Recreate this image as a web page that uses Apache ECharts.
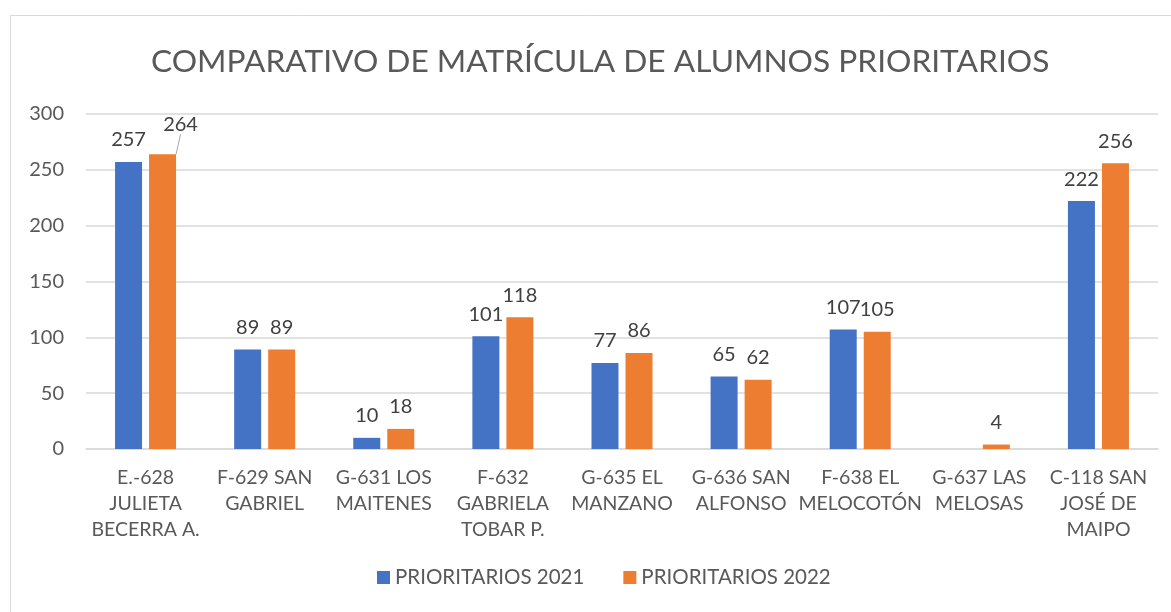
<!DOCTYPE html>
<html>
<head>
<meta charset="utf-8">
<script src="https://cdn.jsdelivr.net/npm/echarts@6/dist/echarts.min.js"></script>
<style>
  html, body { margin: 0; padding: 0; background: #fff; }
  #chart { width: 1171px; height: 612px; }
</style>
</head>
<body>
<div id="chart"></div>
<script>
const categories = [
  "E.-628\nJULIETA\nBECERRA A.",
  "F-629 SAN\nGABRIEL",
  "G-631 LOS\nMAITENES",
  "F-632\nGABRIELA\nTOBAR P.",
  "G-635 EL\nMANZANO",
  "G-636 SAN\nALFONSO",
  "F-638 EL\nMELOCOTÓN",
  "G-637 LAS\nMELOSAS",
  "C-118 SAN\nJOSÉ DE\nMAIPO"
];
const prior2021 = [257, 89, 10, 101, 77, 65, 107, null, 222];
const prior2022 = [264, 89, 18, 118, 86, 62, 105, 4, 256];
const yTicks = [0, 50, 100, 150, 200, 250, 300];

const font = "Lato, 'Open Sans', sans-serif";
const chart = echarts.init(document.getElementById("chart"));

const labelStyle = {
  show: true,
  position: "top",
  distance: 12,
  color: "#404040",
  fontSize: 20,
  fontFamily: font
};

// only the first orange label is pulled aside with a leader line
const data2022 = prior2022.map((v, i) => i === 0
  ? { value: v, labelLine: { show: true, lineStyle: { color: "#a6a6a6", width: 1 } } }
  : { value: v, labelLine: { show: false } });

chart.setOption({
  animation: false,
  textStyle: { fontFamily: font },
  graphic: [{
    type: "rect",
    shape: { x: 10.5, y: 15.5, width: 1300, height: 700 },
    style: { fill: "none", stroke: "#d9d9d9", lineWidth: 1 },
    silent: true
  }],
  title: {
    text: "COMPARATIVO DE MATRÍCULA DE ALUMNOS PRIORITARIOS",
    left: 146,
    top: 41,
    textStyle: { color: "#595959", fontSize: 31.7, fontWeight: "normal", fontFamily: font }
  },
  legend: {
    bottom: 19,
    left: 372,
    itemWidth: 13,
    itemHeight: 13,
    itemGap: 39,
    icon: "rect",
    textStyle: { color: "#595959", fontSize: 20.5, fontFamily: font }
  },
  grid: { left: 86, right: 13, top: 114, bottom: 163 },
  xAxis: {
    type: "category",
    data: categories,
    axisLine: { lineStyle: { color: "#d9d9d9", width: 1.5 } },
    axisTick: { show: false },
    axisLabel: { color: "#595959", fontSize: 19.5, lineHeight: 26, margin: 16, interval: 0, fontFamily: font }
  },
  yAxis: {
    type: "value",
    min: yTicks[0],
    max: yTicks[yTicks.length - 1],
    interval: 50,
    axisLine: { show: false },
    axisTick: { show: false },
    splitLine: { lineStyle: { color: "#d9d9d9", width: 1.5 } },
    axisLabel: { color: "#595959", fontSize: 20, margin: 22, fontFamily: font }
  },
  series: [
    {
      name: "PRIORITARIOS 2021",
      type: "bar",
      data: prior2021,
      barWidth: 27,
      barGap: "26%",
      itemStyle: { color: "#4472C4" },
      label: labelStyle
    },
    {
      name: "PRIORITARIOS 2022",
      type: "bar",
      data: data2022,
      barWidth: 27,
      itemStyle: { color: "#ED7D31" },
      label: labelStyle,
      labelLayout: function (p) {
        return p.dataIndex === 0 ? { dx: 18, dy: -8 } : {};
      }
    }
  ]
});
</script>
</body>
</html>
